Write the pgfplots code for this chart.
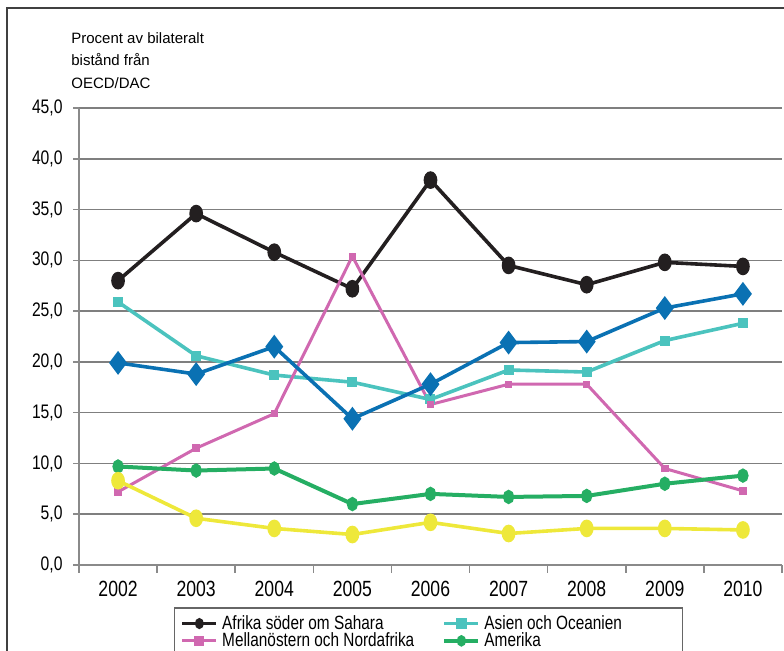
\documentclass[border=0pt]{standalone}
\usepackage{fontspec}
\setmainfont{Liberation Sans}[FakeStretch=0.8]
\newfontfamily\titlefont{Liberation Sans}
\usepackage{pgfplots}
\pgfplotsset{compat=1.18}
\definecolor{cBlack}{HTML}{231F20}
\definecolor{cTeal}{HTML}{4BC3BE}
\definecolor{cPink}{HTML}{D068B0}
\definecolor{cGreen}{HTML}{25AE63}
\definecolor{cBlue}{HTML}{0A71B3}
\definecolor{cYellow}{HTML}{EEE83A}
\definecolor{cGrid}{HTML}{7F7F7F}
\definecolor{cAxis}{HTML}{8A8A8A}
\begin{document}
\begin{tikzpicture}
\useasboundingbox (0,0) rectangle (392pt,325.5pt);
\clip (0,0) rectangle (392pt,325.5pt);
% outer frame (top and left edges visible)
\draw[color=black!75, line width=1pt] (3.5pt,0) -- (3.5pt,321.5pt) -- (392pt,321.5pt);
% title
\node[anchor=base west, inner sep=0pt, font=\titlefont\fontsize{7.5}{9}\selectfont] at (35.5pt,303.5pt) {Procent av bilateralt};
\node[anchor=base west, inner sep=0pt, font=\titlefont\fontsize{7.5}{9}\selectfont] at (35.5pt,292.5pt) {bistånd från};
\node[anchor=base west, inner sep=0pt, font=\titlefont\fontsize{7.5}{9}\selectfont] at (35.5pt,281pt) {OECD/DAC};
\begin{axis}[
  at={(39.5pt,43pt)}, anchor=south west,
  scale only axis, width=351.5pt, height=228.5pt,
  xmin=-0.5, xmax=8.5, ymin=0, ymax=45,
  axis x line*=bottom, axis y line*=left,
  axis line style={cAxis, line width=0.8pt, -},
  xtick={0,...,8},
  xticklabels={2002,2003,2004,2005,2006,2007,2008,2009,2010},
  minor xtick={-0.5,0.5,...,8.5},
  major x tick style={draw=none},
  tick align=outside,
  major tick length=3pt, minor tick length=4pt,
  tick style={cAxis, line width=0.8pt},
  ytick={0,5,...,45},
  ymajorgrids, grid style={cGrid, line width=0.8pt},
  /pgf/number format/assume math mode=true,
  yticklabel style={/pgf/number format/.cd, fixed, fixed zerofill, precision=1, use comma, /tikz/.cd, font=\fontsize{9.8}{11}\selectfont, xshift=-1.7pt},
  xticklabel style={font=\fontsize{11}{13}\selectfont, yshift=-1.3pt},
  legend columns=2,
  legend cell align=left,
  legend image post style={mark size=1.8pt},
  legend style={at={(0.135,-0.093)}, anchor=north west, draw=black!60, line width=0.6pt,
    font=\fontsize{9.6}{11}\selectfont, inner xsep=3pt, inner ysep=1.5pt, row sep=-3.8pt,
    /tikz/every even column/.append style={column sep=12pt}},
  every axis plot/.append style={mark options={solid}},
]
\addplot[color=cBlack, line width=1.8pt, mark=*, mark size=3.5pt, mark options={xscale=0.72, fill=cBlack}]
  coordinates {(0,28.0) (1,34.6) (2,30.8) (3,27.2) (4,37.9) (5,29.5) (6,27.6) (7,29.8) (8,29.4)};
\addlegendentry{Afrika söder om Sahara}
\addplot[color=cTeal, line width=1.8pt, mark=square*, mark size=1.6pt, mark options={fill=cTeal}]
  coordinates {(0,25.9) (1,20.6) (2,18.7) (3,18.0) (4,16.3) (5,19.2) (6,19.0) (7,22.1) (8,23.8)};
\addlegendentry{\makebox[94pt][l]{Asien och Oceanien}}
\addplot[color=cPink, line width=1.5pt, mark=square*, mark size=1.1pt, mark options={fill=cPink}]
  coordinates {(0,7.2) (1,11.5) (2,14.9) (3,30.4) (4,15.8) (5,17.8) (6,17.8) (7,9.5) (8,7.3)};
\addlegendentry{Mellanöstern och Nordafrika}
\addplot[color=cGreen, line width=2pt, mark=*, mark size=2.5pt, mark options={xscale=0.72, fill=cGreen}]
  coordinates {(0,9.7) (1,9.3) (2,9.5) (3,6.0) (4,7.0) (5,6.7) (6,6.8) (7,8.0) (8,8.8)};
\addlegendentry{Amerika}
\addplot[forget plot, color=cBlue, line width=1.8pt, mark=diamond*, mark size=4.5pt, mark options={fill=cBlue}]
  coordinates {(0,19.9) (1,18.8) (2,21.5) (3,14.4) (4,17.8) (5,21.9) (6,22.0) (7,25.3) (8,26.7)};
\addplot[forget plot, color=cYellow, line width=1.8pt, mark=*, mark size=3.5pt, mark options={xscale=0.72, fill=cYellow}]
  coordinates {(0,8.3) (1,4.6) (2,3.6) (3,3.0) (4,4.2) (5,3.1) (6,3.6) (7,3.6) (8,3.45)};
\end{axis}
\end{tikzpicture}
\end{document}
